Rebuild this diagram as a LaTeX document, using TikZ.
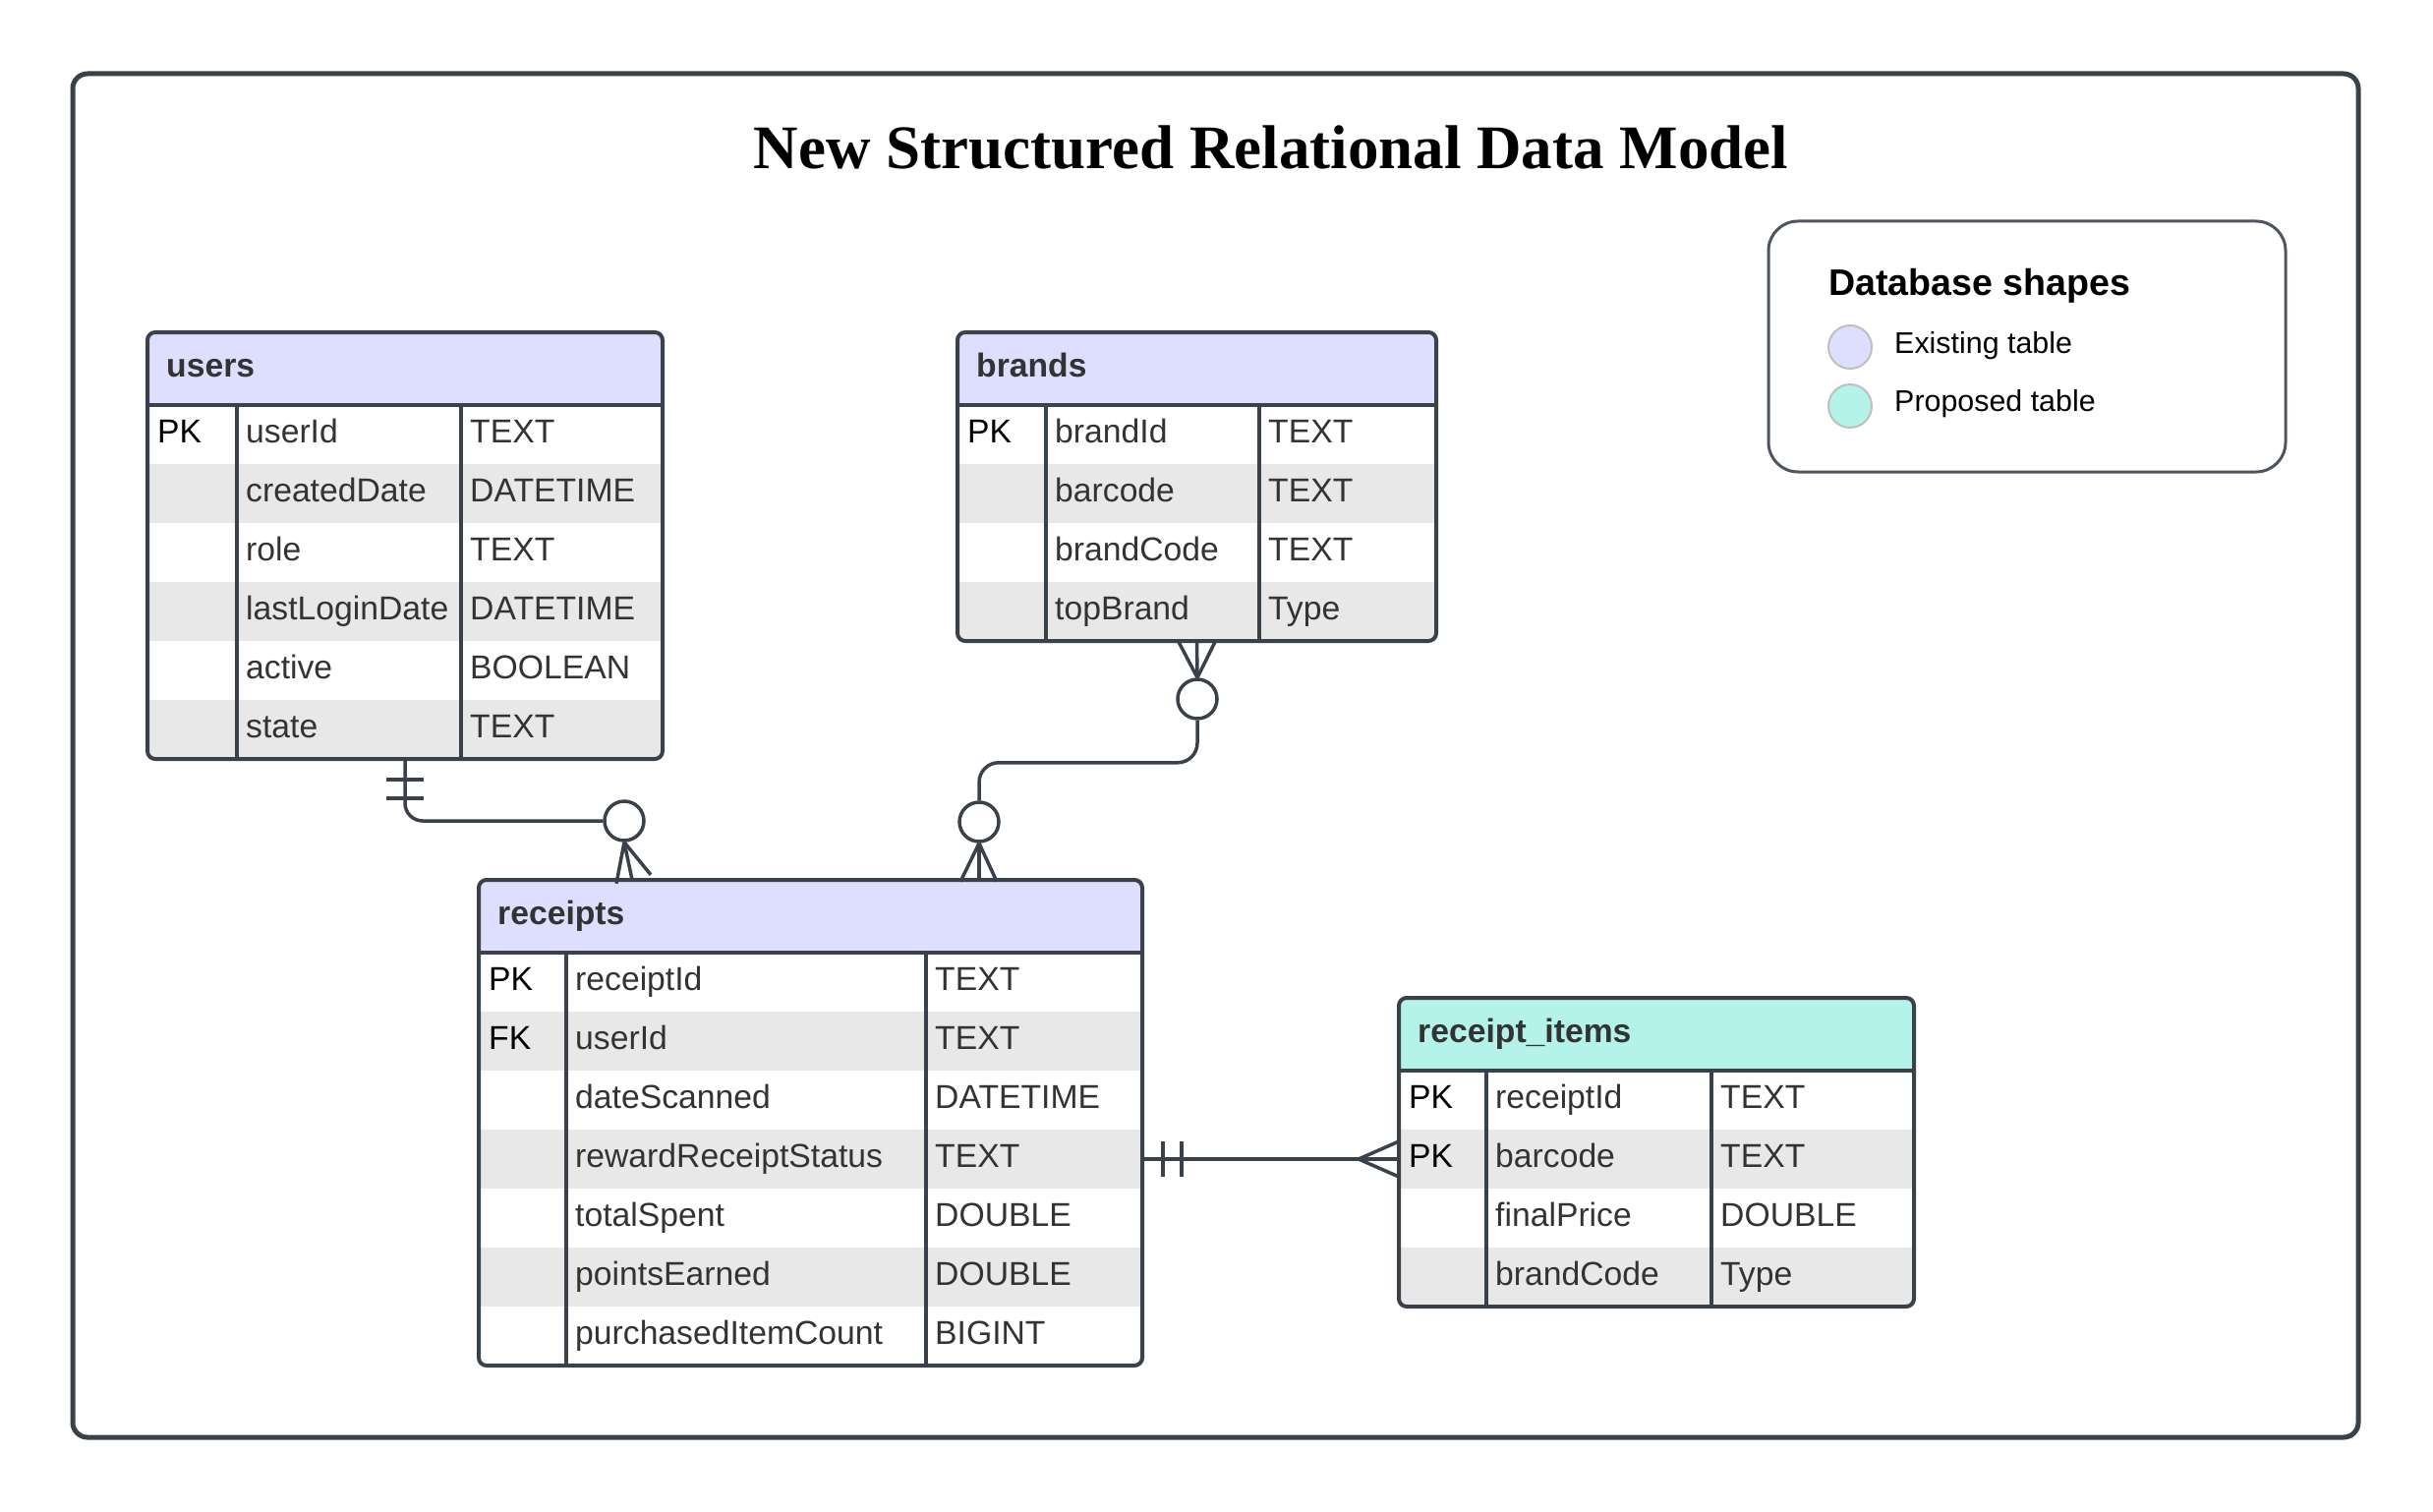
\documentclass[tikz,border=0pt]{standalone}
\usepackage{fontspec}
\setmainfont{Liberation Sans}
\newfontfamily\titlefont{Liberation Serif}
\usetikzlibrary{calc}

\definecolor{linegray}{HTML}{3A414A}
\definecolor{framegray}{HTML}{4F5560}
\definecolor{headblue}{HTML}{DEDEFF}
\definecolor{headteal}{HTML}{B4F3E9}
\definecolor{rowgray}{HTML}{E8E8E8}
\definecolor{txtgray}{HTML}{333333}

\newcommand{\cellfont}{\fontsize{33.7}{40}\selectfont}

\tikzset{
  tablearea/.style={rectangle, draw=none, inner sep=0pt, outer sep=0pt},
  tableline/.style={draw=linegray, line width=4pt},
  rel/.style={draw=linegray, line width=3.5pt},
  ring/.style={circle, draw=linegray, line width=3.5pt, fill=white, minimum size=40pt, inner sep=0pt},
  headtext/.style={anchor=base west, inner sep=0pt, font=\cellfont\bfseries, text=txtgray},
  keytext/.style={anchor=base west, inner sep=0pt, font=\cellfont, text=black},
  celltext/.style={anchor=base west, inner sep=0pt, font=\cellfont, text=txtgray},
  swatch/.style={circle, line width=2pt, minimum size=44pt, inner sep=0pt},
  legendtext/.style={anchor=base west, inner sep=0pt, font=\fontsize{30.4}{36}\selectfont, text=black}
}

% one table: name, top left, three column widths, rows, header fill, title, rows
\newcommand{\dbtable}[9]{%
  \pgfmathsetmacro\tw{#3+#4+#5}
  \pgfmathsetmacro\th{74+60*#6}
  \node[tablearea, minimum width=\tw pt, minimum height=\th pt, anchor=north west] (#1) at #2 {};
  % header and striped rows
  \begin{scope}
    \clip[rounded corners=8pt] (#1.north west) rectangle (#1.south east);
    \fill[#7] (#1.north west) rectangle ++(\tw,74);
    \foreach \k/\n/\t [count=\i] in {#9} {
      \ifodd\i\else
        \fill[rowgray] ($(#1.north west)+(0,14+60*\i)$) rectangle ++(\tw,60);
      \fi
    }
  \end{scope}
  % cells
  \foreach \k/\n/\t [count=\i] in {#9} {
    \coordinate (#1-r\i) at ($(#1.north west)+(0,44+60*\i)$);
    \node[keytext] (#1-k\i) at ($(#1-r\i)+(10,8)$) {\k};
    \node[celltext] (#1-n\i) at ($(#1-r\i)+(#3+9,8)$) {\n};
    \node[celltext] (#1-t\i) at ($(#1-r\i)+(#3+#4+9,8)$) {\t};
  }
  % grid lines
  \draw[tableline] ($(#1.north west)+(0,74)$) -- ++(\tw,0);
  \draw[tableline] ($(#1.north west)+(#3,74)$) -- ($(#1.south west)+(#3,0)$);
  \draw[tableline] ($(#1.north west)+(#3+#4,74)$) -- ($(#1.south west)+(#3+#4,0)$);
  \node[headtext] (#1-title) at ($(#1.north west)+(19,45)$) {#8};
  \draw[tableline, rounded corners=8pt] (#1.north west) rectangle (#1.south east);
}

\begin{document}
\begin{tikzpicture}[x=1pt, y=-1pt]
    \useasboundingbox (0,0) rectangle (2475,1538);

    % Outer frame and title
    \draw[linegray, line width=5pt, rounded corners=15pt] (74,75) rectangle (2399,1462);
    \node[anchor=base, inner sep=0pt, font=\titlefont\fontsize{63}{70}\selectfont\bfseries] (title) at (1293,172) {New Structured Relational Data Model};

    % Legend
    \node[tablearea, draw=framegray, line width=3pt, rounded corners=30pt, minimum width=526pt, minimum height=255pt, anchor=north west] (legend) at (1799,225) {};
    \node[anchor=base west, inner sep=0pt, font=\fontsize{37.6}{44}\selectfont\bfseries] (legend-title) at (1860,300) {Database shapes};
    \node[swatch, draw=black!25, fill=headblue] (sw-old) at (1882,353) {};
    \node[swatch, draw=black!25, fill=headteal] (sw-new) at (1882,413) {};
    \node[legendtext] (lg-old) at (1927,359) {Existing table};
    \node[legendtext] (lg-new) at (1927,418) {Proposed table};

    % Tables
    \dbtable{users}{(150,338)}{91}{228}{205}{6}{headblue}{users}{PK/userId/TEXT, /createdDate/DATETIME, /role/TEXT, /lastLoginDate/DATETIME, /active/BOOLEAN, /state/TEXT}
    \dbtable{brands}{(974,338)}{90}{217}{180}{4}{headblue}{brands}{PK/brandId/TEXT, /barcode/TEXT, /brandCode/TEXT, /topBrand/Type}
    \dbtable{receipts}{(487,895)}{89}{366}{220}{7}{headblue}{receipts}{PK/receiptId/TEXT, FK/userId/TEXT, /dateScanned/DATETIME, /rewardReceiptStatus/TEXT, /totalSpent/DOUBLE, /pointsEarned/DOUBLE, /purchasedItemCount/BIGINT}
    \dbtable{items}{(1423,1015)}{89}{229}{206}{4}{headteal}{receipt\_items}{PK/receiptId/TEXT, PK/barcode/TEXT, /finalPrice/DOUBLE, /brandCode/Type}

    % users -- receipts
    \node[ring] (u-ring) at (635,835) {};
    \draw[rel, rounded corners=18pt] (users.south) |- (u-ring.west);
    \draw[rel] ($(users.south)+(-19,21)$) -- ++(38,0);
    \draw[rel] ($(users.south)+(-19,40)$) -- ++(38,0);
    \draw[rel] (u-ring.south) -- ++(-8,42);
    \draw[rel] (u-ring.south) -- ++(8,38);
    \draw[rel] (u-ring.south) -- ++(27,33);

    % brands -- receipts
    \node[ring] (b-ring) at (1218,711) {};
    \node[ring] (r-ring) at (996,836) {};
    \draw[rel] (b-ring.north) -- ($(brands.south)+(-19,0)$);
    \draw[rel] (b-ring.north) -- (brands.south);
    \draw[rel] (b-ring.north) -- ($(brands.south)+(19,0)$);
    \draw[rel, rounded corners=20pt] (b-ring.south) -- ++(0,43) -| (r-ring.north);
    \draw[rel] (r-ring.south) -- ++(-19,39);
    \draw[rel] (r-ring.south) -- ++(0,39);
    \draw[rel] (r-ring.south) -- ++(18,39);

    % receipts -- receipt_items
    \coordinate (ri-start) at (receipts.east |- receipts-r4);
    \coordinate (ri-end) at (items.west |- items-r2);
    \draw[rel] (ri-start) -- (ri-end);
    \draw[rel] ($(ri-start)+(21,-18)$) -- ++(0,36);
    \draw[rel] ($(ri-start)+(40,-18)$) -- ++(0,36);
    \draw[rel] ($(ri-end)+(-41,0)$) -- ($(ri-end)+(0,-18)$);
    \draw[rel] ($(ri-end)+(-41,0)$) -- ($(ri-end)+(0,18)$);
\end{tikzpicture}
\end{document}
